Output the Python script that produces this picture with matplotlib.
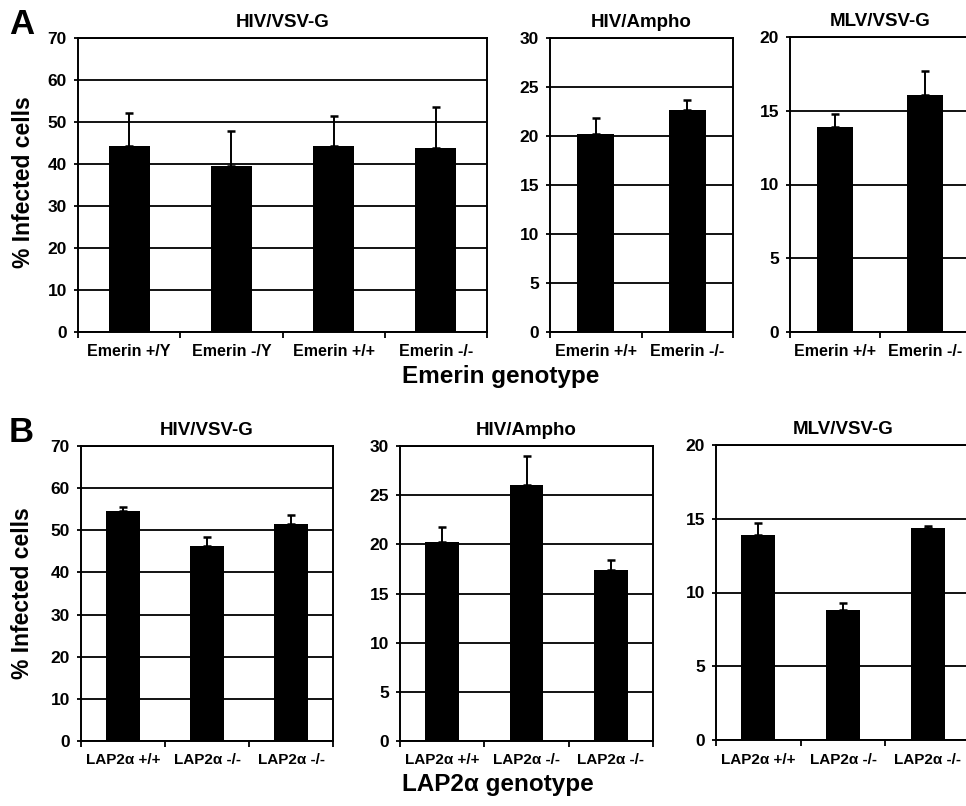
import numpy as np
import matplotlib
matplotlib.use('Agg')
import matplotlib.pyplot as plt
from matplotlib.ticker import FixedLocator

plt.rcParams['font.family'] = ['Liberation Sans', 'DejaVu Sans']
plt.rcParams['font.weight'] = 'bold'

# ===== data =====
# panel A: emerin
emerin_a1 = ['Emerin +/Y', 'Emerin -/Y', 'Emerin +/+', 'Emerin -/-']
hiv_vsvg_a = [44.3, 39.6, 44.3, 43.8]
hiv_vsvg_a_err = [7.8, 8.3, 7.1, 9.8]

emerin_a2 = ['Emerin +/+', 'Emerin -/-']
hiv_ampho_a = [20.2, 22.7]
hiv_ampho_a_err = [1.6, 1.0]

mlv_vsvg_a = [13.9, 16.1]
mlv_vsvg_a_err = [0.9, 1.6]

# panel B: LAP2alpha
lap2a = ['LAP2α +/+', 'LAP2α -/-', 'LAP2α -/-']
hiv_vsvg_b = [54.5, 46.2, 51.6]
hiv_vsvg_b_err = [1.0, 2.3, 2.0]

hiv_ampho_b = [20.2, 26.0, 17.4]
hiv_ampho_b_err = [1.6, 3.0, 1.0]

mlv_vsvg_b = [13.9, 8.8, 14.4]
mlv_vsvg_b_err = [0.8, 0.5, 0.1]
# ====================================

W, H = 966, 806
fig = plt.figure(figsize=(W / 100, H / 100), dpi=100)


def px_axes(l, t, r, b):
    """ axes placed by pixel box (left, top, right, bottom) """
    return fig.add_axes([l / W, 1 - b / H, (r - l) / W, (b - t) / H])


def bar_panel(ax, labels, vals, errs, ymax, step, title, fs=11.5):
    """ Excel style bar chart: black bars, black gridlines, one sided errors """
    x = np.arange(len(labels))
    ax.bar(x, vals, width=0.4, color='black', zorder=3)
    ax.errorbar(x, vals, yerr=[np.zeros(len(errs)), errs], fmt='none',
                ecolor='black', elinewidth=1.4, capsize=3, capthick=1.8,
                zorder=2)
    ax.set_xlim(-0.5, len(labels) - 0.5)
    ax.set_ylim(0, ymax)
    ax.set_yticks(np.arange(0, ymax + 1, step))
    ax.yaxis.grid(True, color='black', linewidth=1.3)
    ax.set_axisbelow(True)
    ax.set_xticks(x)
    ax.set_xticklabels(labels, fontsize=fs, fontweight='bold')
    ax.xaxis.set_minor_locator(FixedLocator(np.arange(-0.5, len(labels), 1.0)))
    ax.tick_params(axis='x', which='major', length=0, pad=9)
    ax.tick_params(axis='x', which='minor', length=4, width=1.3, direction='out')
    ax.tick_params(axis='y', length=3, width=1.3, labelsize=12.5, pad=5)
    for lab in ax.get_yticklabels():
        lab.set_fontweight('bold')
    for sp in ax.spines.values():
        sp.set_linewidth(1.4)
        sp.set_color('black')
    ax.set_title(title, fontsize=13.5, fontweight='bold', pad=8)


# ---- panel A ----
ax = px_axes(78, 38, 487, 332)
bar_panel(ax, emerin_a1, hiv_vsvg_a, hiv_vsvg_a_err, 70, 10, 'HIV/VSV-G')

ax = px_axes(550, 38, 733, 332)
bar_panel(ax, emerin_a2, hiv_ampho_a, hiv_ampho_a_err, 30, 5, 'HIV/Ampho')

ax = px_axes(790, 37, 970, 332)
bar_panel(ax, emerin_a2, mlv_vsvg_a, mlv_vsvg_a_err, 20, 5, 'MLV/VSV-G')

# ---- panel B ----
ax = px_axes(81, 446, 333, 741)
bar_panel(ax, lap2a, hiv_vsvg_b, hiv_vsvg_b_err, 70, 10, 'HIV/VSV-G', fs=11)

ax = px_axes(400, 446, 653, 741)
bar_panel(ax, lap2a, hiv_ampho_b, hiv_ampho_b_err, 30, 5, 'HIV/Ampho', fs=11)

ax = px_axes(716, 445, 970, 740)
bar_panel(ax, lap2a, mlv_vsvg_b, mlv_vsvg_b_err, 20, 5, 'MLV/VSV-G', fs=11)

# shared labels
fig.text(24 / W, 1 - 182 / H, '% Infected cells', rotation=90, ha='center',
         va='center', fontsize=16.5, fontweight='bold')
fig.text(23 / W, 1 - 593 / H, '% Infected cells', rotation=90, ha='center',
         va='center', fontsize=16.5, fontweight='bold')
fig.text(501 / W, 1 - 377 / H, 'Emerin genotype', ha='center', va='center',
         fontsize=17.5, fontweight='bold')
fig.text(498 / W, 1 - 785 / H, 'LAP2α genotype', ha='center', va='center',
         fontsize=17.5, fontweight='bold')

# panel letters
fig.text(9 / W, 1 - 24 / H, 'A', ha='left', va='center', fontsize=25,
         fontweight='bold')
fig.text(9 / W, 1 - 433 / H, 'B', ha='left', va='center', fontsize=25,
         fontweight='bold')

fig.savefig('out.png', dpi=100)
